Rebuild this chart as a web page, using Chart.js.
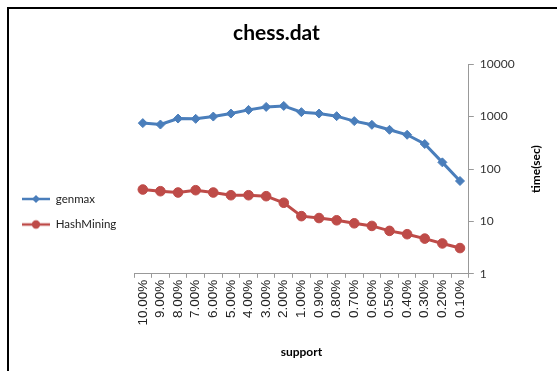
<!DOCTYPE html>
<html>
<head>
<meta charset="utf-8">
<script src="https://cdn.jsdelivr.net/npm/chart.js@4"></script>
<style>
  html, body { margin: 0; padding: 0; background: #fff; }
  #wrap { position: relative; width: 557px; height: 371px; overflow: hidden; }
  #frame { position: absolute; left: 7px; top: 7px; width: 600px; height: 400px;
           border-top: 2px solid #000; border-left: 2px solid #000; pointer-events: none; }
</style>
</head>
<body>
<div id="wrap">
  <canvas id="myChart" width="557" height="371"></canvas>
  <div id="frame"></div>
</div>
<script>
const labels = ["10.00%", "9.00%", "8.00%", "7.00%", "6.00%", "5.00%", "4.00%", "3.00%", "2.00%", "1.00%",
  "0.90%", "0.80%", "0.70%", "0.60%", "0.50%", "0.40%", "0.30%", "0.20%", "0.10%"];
const genmax = [751, 706, 918, 906, 1002, 1143, 1343, 1531, 1600, 1216, 1143, 1020, 820, 697, 560, 450, 300, 134, 59];
const hashMining = [40.6, 37.7, 35.6, 39.4, 35.6, 31.6, 31.6, 30.3, 22.7, 12.6, 11.6, 10.5, 9.2, 8.2, 6.6, 5.7, 4.7, 3.8, 3.1];
const yTicks = [1, 10, 100, 1000, 10000];

const blue = "#4a7ebb";
const red = "#be4b48";
const calibri = "Lato, 'Open Sans', sans-serif";

// small picture of line + marker for the legend
function legendIcon(color, shape) {
  const c = document.createElement("canvas");
  c.width = 28;
  c.height = 12;
  const g = c.getContext("2d");
  g.strokeStyle = color;
  g.lineWidth = 2.5;
  g.beginPath();
  g.moveTo(0, 6);
  g.lineTo(28, 6);
  g.stroke();
  g.fillStyle = color;
  g.beginPath();
  if (shape == "diamond") {
    g.moveTo(14, 2); g.lineTo(18, 6); g.lineTo(14, 10); g.lineTo(10, 6);
  } else {
    g.arc(14, 6, 4.2, 0, Math.PI * 2);
  }
  g.closePath();
  g.fill();
  return c;
}
const icons = [legendIcon(blue, "diamond"), legendIcon(red, "circle")];

// keeps a gap between the legend and the plot, and flips the right axis title
const layoutTweaks = {
  id: "layoutTweaks",
  afterInit(chart) {
    const lg = chart.legend;
    const fit = lg.fit.bind(lg);
    lg.fit = function () {
      fit();
      this.width = Math.max(this.width, 126);
    };
  },
  afterDraw(chart) {
    const y = chart.scales.y;
    const ctx = chart.ctx;
    ctx.save();
    ctx.translate(y.right - 9, (y.top + y.bottom) / 2);
    ctx.rotate(-Math.PI / 2);
    ctx.fillStyle = "#000";
    ctx.font = "bold 12px " + calibri;
    ctx.textAlign = "center";
    ctx.textBaseline = "middle";
    ctx.fillText("time(sec)", 0, 0);
    ctx.restore();
  },
};

const datasets = [
  {
    label: "genmax",
    data: genmax,
    borderColor: blue,
    backgroundColor: blue,
    borderWidth: 3,
    pointStyle: "rectRot",
    pointRadius: 4.5,
    pointBorderWidth: 1,
  },
  {
    label: "HashMining",
    data: hashMining,
    borderColor: red,
    backgroundColor: red,
    borderWidth: 3,
    pointStyle: "circle",
    pointRadius: 4.8,
    pointBorderWidth: 1,
  },
];

const config = {
  type: "line",
  data: { labels, datasets },
  plugins: [layoutTweaks],
  options: {
    responsive: false,
    animation: false,
    layout: { padding: { left: 8, right: 12, top: 6, bottom: 12 } },
    plugins: {
      title: {
        display: true,
        text: "chess.dat",
        color: "#000",
        font: { family: calibri, size: 21, weight: "bold" },
        padding: { top: 15, bottom: 18 },
      },
      legend: {
        position: "left",
        title: { display: true, text: "", padding: { top: 0, bottom: 44 }, font: { size: 12 } },
        labels: {
          usePointStyle: true,
          pointStyleWidth: 28,
          color: "#222",
          padding: 14,
          font: { family: calibri, size: 11.5 },
          generateLabels: (chart) => {
            const items = Chart.defaults.plugins.legend.labels.generateLabels(chart);
            items.forEach((it, i) => { it.pointStyle = icons[i]; });
            return items;
          },
        },
      },
      tooltip: { enabled: false },
    },
    scales: {
      x: {
        offset: true,
        grid: { display: true, drawOnChartArea: false, drawTicks: true, tickLength: 4, color: "#999", offset: true },
        border: { color: "#999" },
        ticks: {
          autoSkip: false,
          minRotation: 90,
          maxRotation: 90,
          color: "#222",
          padding: 2,
          font: { family: "'Liberation Sans', Arial, sans-serif", size: 13.5 },
        },
        title: {
          display: true,
          text: "support",
          color: "#000",
          font: { family: calibri, size: 12, weight: "bold" },
          padding: { top: 17, bottom: 0 },
        },
      },
      y: {
        type: "logarithmic",
        position: "right",
        min: 1,
        max: 10000,
        afterBuildTicks: (axis) => {
          axis.ticks = yTicks.map((v) => ({ value: v }));
        },
        grid: { display: true, drawOnChartArea: false, drawTicks: true, tickLength: 5, color: "#999" },
        border: { color: "#999" },
        ticks: {
          color: "#333",
          padding: 6,
          font: { family: calibri, size: 12 },
          callback: (v) => String(v),
        },
        title: {
          display: true,
          text: "time(sec)",
          color: "rgba(0,0,0,0)",
          font: { family: calibri, size: 12, weight: "bold" },
          padding: { top: 10, bottom: 0 },
        },
      },
    },
  },
};

new Chart(document.getElementById("myChart"), config);
</script>
</body>
</html>
